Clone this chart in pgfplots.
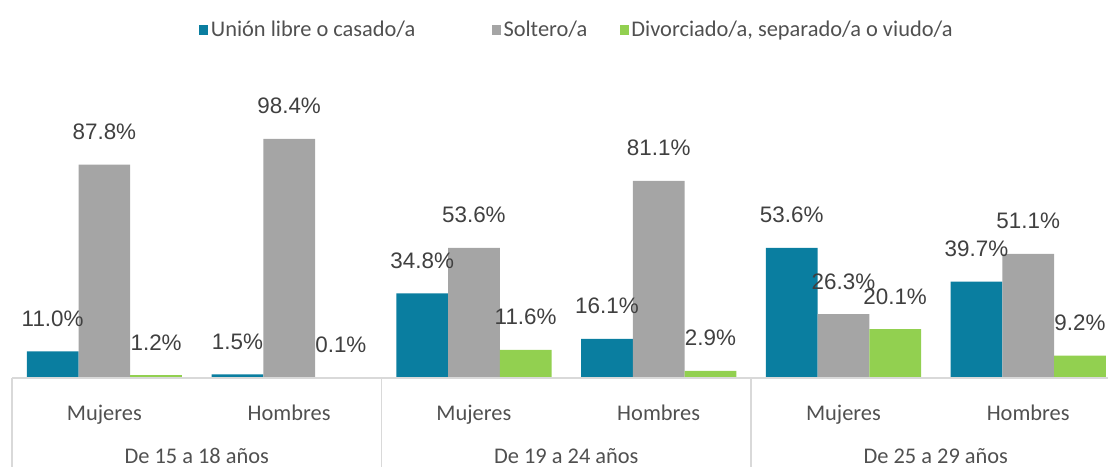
\documentclass[border=0pt]{standalone}
\usepackage{fontspec}
\setmainfont{Carlito}
\newfontfamily\arial{Liberation Sans}
\usepackage{pgfplots}
\pgfplotsset{compat=1.18}
\definecolor{tealc}{RGB}{10,126,160}
\definecolor{grayc}{RGB}{165,165,165}
\definecolor{greenc}{RGB}{146,208,80}
\definecolor{labc}{RGB}{80,80,80}
\definecolor{valc}{RGB}{64,64,64}
\definecolor{linec}{RGB}{217,217,217}
\newcommand{\lab}{\fontsize{11.2}{13.4}\selectfont}

\begin{document}
\begin{tikzpicture}
\begin{axis}[
  at={(6pt,44pt)}, anchor=south west, scale only axis,
  width=548pt, height=159pt,
  xmin=-0.5, xmax=5.432, ymin=0, ymax=130.9,
  axis lines=none, clip=false,
  ybar=0pt, bar width=0.28,
  legend image code/.code={\fill[#1] (0pt,-2.4pt) rectangle (4.6pt,2.4pt);},
  legend columns=3,
  legend style={at={(rel axis cs:0.1705,1.094)}, anchor=west, draw=none,
    fill=none, inner sep=0pt, font=\lab, text=labc,
    nodes={inner sep=1.2pt}},
  nodes near coords={\pgfmathprintnumber{\pgfplotspointmeta}\%},
  every node near coord/.append style={font=\arial\lab, text=valc,
    anchor=base, yshift=12.5pt, inner sep=0pt},
  /pgf/number format/fixed, /pgf/number format/fixed zerofill,
  /pgf/number format/precision=1, /pgf/number format/assume math mode=true,
]
% Union libre o casado/a
\addplot[fill=tealc, draw=none] coordinates
  {(0,11.0) (1,1.5) (2,34.8) (3,16.1) (4,53.6) (5,39.7)};
% Soltero/a
\addplot[fill=grayc, draw=none] coordinates
  {(0,87.8) (1,98.4) (2,53.6) (3,81.1) (4,26.3) (5,51.1)};
% Divorciado/a, separado/a o viudo/a
\addplot[fill=greenc, draw=none] coordinates
  {(0,1.2) (1,0.1) (2,11.6) (3,2.9) (4,20.1) (5,9.2)};
\legend{Unión libre o casado/a\hspace*{37pt}, Soltero/a\hspace*{15pt},
  {Divorciado/a, separado/a o viudo/a}}

% baseline and group separators
\draw[linec, line width=0.6pt] (axis cs:-0.5,0) -- (axis cs:5.432,0);
\draw[linec, line width=0.6pt] (axis cs:-0.5,0) -- (axis cs:-0.5,-36.5);
\draw[linec, line width=0.6pt] (axis cs:1.5,0) -- (axis cs:1.5,-36.5);
\draw[linec, line width=0.6pt] (axis cs:3.5,0) -- (axis cs:3.5,-36.5);

% category labels
\node[font=\lab, text=labc, anchor=base] at (axis cs:0,-17.3) {Mujeres};
\node[font=\lab, text=labc, anchor=base] at (axis cs:1,-17.3) {Hombres};
\node[font=\lab, text=labc, anchor=base] at (axis cs:2,-17.3) {Mujeres};
\node[font=\lab, text=labc, anchor=base] at (axis cs:3,-17.3) {Hombres};
\node[font=\lab, text=labc, anchor=base] at (axis cs:4,-17.3) {Mujeres};
\node[font=\lab, text=labc, anchor=base] at (axis cs:5,-17.3) {Hombres};
\node[font=\lab, text=labc, anchor=base] at (axis cs:0.5,-35.0) {De 15 a 18 años};
\node[font=\lab, text=labc, anchor=base] at (axis cs:2.5,-35.0) {De 19 a 24 años};
\node[font=\lab, text=labc, anchor=base] at (axis cs:4.5,-35.0) {De 25 a 29 años};
\end{axis}
\pgfresetboundingbox
\useasboundingbox (0,0) rectangle (554pt,233pt);
\end{tikzpicture}
\end{document}
